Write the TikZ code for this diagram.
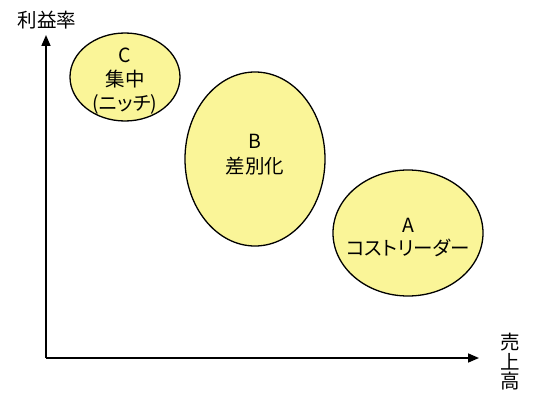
\documentclass[tikz,border=0pt]{standalone}
\usepackage{fontspec}
\setmainfont{Noto Sans CJK JP}[RawFeature=+palt]
\usetikzlibrary{arrows.meta,shapes.geometric}
\definecolor{ellfill}{RGB}{250,245,152}
\tikzset{
  ell/.style={draw=black, line width=1.3pt, fill=ellfill, ellipse, inner sep=0pt},
  axis/.style={line width=1.6pt, -{Triangle[length=11pt,width=9pt]}},
  lbl/.style={font=\fontsize{19.5}{22}\selectfont, align=center, inner sep=0pt},
}
\begin{document}
\begin{tikzpicture}[x=1pt,y=-1pt]
\useasboundingbox (0,0) rectangle (535,404);
% ellipses
\node[ell, minimum width=110pt, minimum height=88pt] (ec) at (125,77) {};
\node[ell, minimum width=140pt, minimum height=174pt] (eb) at (255,159) {};
\node[ell, minimum width=150pt, minimum height=126pt] (ea) at (408,233) {};
% labels
\node[lbl] (c1) at (125,55) {C};
\node[lbl] (c2) at (125,79) {集中};
\node[lbl] (c3) at (125,104) {(ニッチ)};
\node[lbl] (b1) at (255,141) {B};
\node[lbl] (b2) at (255,166) {差別化};
\node[lbl] (a1) at (408,225) {A};
\node[lbl] (a2) at (408,248) {コストリーダー};
% axes
\coordinate (o) at (46,358);
\coordinate (ytip) at (46,35);
\coordinate (xtip) at (479,358);
\draw[axis] (o) -- (ytip);
\draw[axis] (o) -- (xtip);
\node[lbl] (ylab) at (47,20) {利益率};
\node[lbl, font=\fontsize{19.5}{19.5}\selectfont] (xlab) at (510,362) {売\\上\\高};
\end{tikzpicture}
\end{document}
